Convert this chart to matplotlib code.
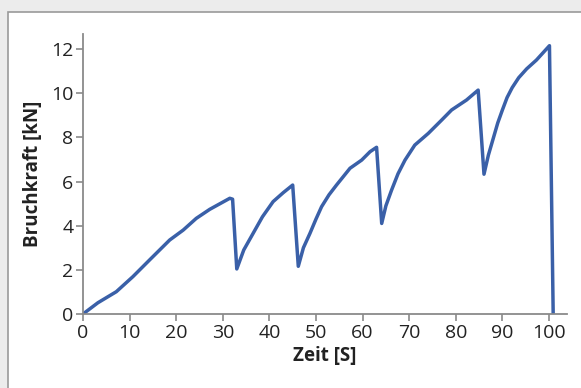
import matplotlib.pyplot as plt
from matplotlib.patches import Rectangle

plt.rcParams['font.family'] = ['Open Sans', 'DejaVu Sans']

# Zeit [S] vs Bruchkraft [kN]
zeit = [0, 3.2, 7.15, 10.7, 14.3, 18.6, 21.5, 24.3, 27.2, 31.5, 32.1,
        33.0, 34.5, 36.5, 38.5, 40.8, 43.0, 45.0,
        46.2, 47.3, 48.7, 50.0, 51.2, 52.8, 54.4, 57.3, 59.8, 61.6, 63.0,
        64.1, 65.0, 66.2, 67.6, 69.1, 71.2, 74.1, 77.0, 79.1, 82.3, 84.8,
        86.05, 87.0, 88.05, 89.0, 90.0, 91.0, 92.1, 93.5, 95.2, 97.3, 100.1, 100.9]
kraft = [0, 0.51, 1.01, 1.69, 2.45, 3.35, 3.80, 4.33, 4.74, 5.24, 5.2,
         2.04, 2.9, 3.65, 4.4, 5.09, 5.5, 5.84,
         2.16, 3.0, 3.65, 4.3, 4.86, 5.4, 5.84, 6.6, 6.97, 7.35, 7.55,
         4.1, 4.9, 5.6, 6.35, 6.97, 7.65, 8.18, 8.79, 9.24, 9.69, 10.14,
         6.33, 7.2, 7.96, 8.65, 9.24, 9.8, 10.25, 10.7, 11.1, 11.5, 12.15, 0]

xticks = list(range(0, 101, 10))
yticks = list(range(0, 13, 2))

fig = plt.figure(figsize=(5.81, 3.88), dpi=100)
fig.patch.set_facecolor('#ececec')
fig.patches.append(Rectangle((8 / 581, -0.1), 1.1, 1 - 12 / 388 + 0.1,
                             transform=fig.transFigure, facecolor='white',
                             edgecolor='#9a9a9a', linewidth=1.2, zorder=-1))

ax = fig.add_axes([83 / 581, 74 / 388, (566.7 - 83) / 581, (314 - 34) / 388])
ax.set_zorder(2)
ax.set_facecolor('none')
ax.plot(zeit, kraft, color='#3a60a8', linewidth=2.5, solid_joinstyle='round')

ax.set_xlim(0, 103.8)
ax.set_ylim(0, 12.68)
ax.set_xticks(xticks)
ax.set_yticks(yticks)
for s in ['top', 'right']:
    ax.spines[s].set_visible(False)
for s in ['left', 'bottom']:
    ax.spines[s].set_color('#8a8a8a')
    ax.spines[s].set_linewidth(1.3)
ax.tick_params(colors='#8a8a8a', labelcolor='#222222', labelsize=14,
               length=5, width=1.2, pad=2)
ax.set_xlabel('Zeit [S]', fontsize=13.5, fontweight='bold', color='#222222', labelpad=3)
ax.set_ylabel('Bruchkraft [kN]', fontsize=13.5, fontweight='bold', color='#222222', labelpad=6)

fig.savefig('out.png', dpi=100)
